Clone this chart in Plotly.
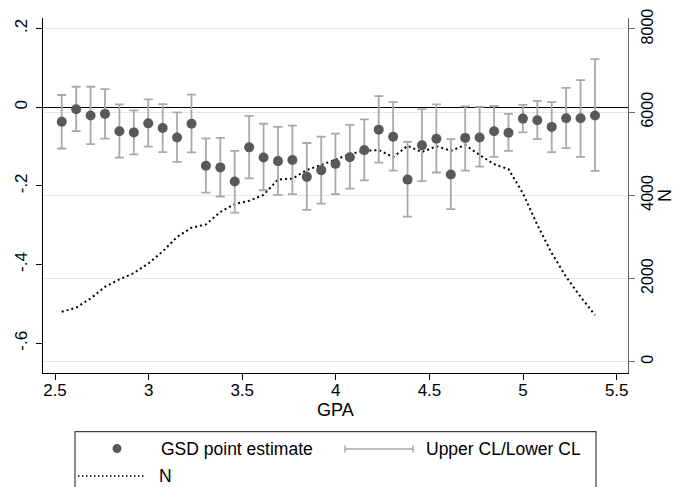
import plotly.graph_objects as go

gpa = [2.536, 2.613, 2.690, 2.767, 2.844, 2.921, 2.998, 3.075, 3.152, 3.229,
       3.306, 3.383, 3.460, 3.537, 3.614, 3.691, 3.768, 3.845, 3.922, 3.998,
       4.075, 4.152, 4.229, 4.306, 4.383, 4.460, 4.537, 4.614, 4.691, 4.768,
       4.845, 4.922, 4.999, 5.076, 5.153, 5.230, 5.307, 5.384]

estimate = [-0.037, -0.005, -0.021, -0.017, -0.061, -0.064, -0.041, -0.053, -0.077, -0.042,
            -0.149, -0.153, -0.189, -0.102, -0.128, -0.137, -0.134, -0.177, -0.160, -0.144,
            -0.127, -0.109, -0.057, -0.075, -0.184, -0.097, -0.080, -0.171, -0.078, -0.077,
            -0.061, -0.065, -0.029, -0.033, -0.050, -0.028, -0.028, -0.021]

upper_cl = [0.031, 0.052, 0.052, 0.046, 0.007, -0.008, 0.020, 0.008, -0.013, 0.032,
            -0.079, -0.078, -0.111, -0.022, -0.042, -0.050, -0.047, -0.091, -0.075, -0.067,
            -0.045, -0.031, 0.028, 0.013, -0.088, -0.005, 0.007, -0.081, 0.002, 0.001,
            0.003, -0.017, 0.006, 0.016, 0.013, 0.049, 0.069, 0.122]

lower_cl = [-0.105, -0.061, -0.094, -0.080, -0.128, -0.120, -0.100, -0.114, -0.139, -0.115,
            -0.217, -0.227, -0.268, -0.181, -0.211, -0.223, -0.221, -0.261, -0.245, -0.221,
            -0.207, -0.186, -0.141, -0.161, -0.278, -0.188, -0.166, -0.259, -0.161, -0.151,
            -0.126, -0.111, -0.064, -0.081, -0.114, -0.104, -0.126, -0.162]

n_obs = [1200, 1300, 1520, 1800, 1980, 2130, 2360, 2650, 3000, 3220,
         3300, 3600, 3790, 3870, 4010, 4380, 4400, 4610, 4730, 4850,
         4990, 5070, 5090, 4920, 5190, 5040, 5180, 5070, 5210, 4970,
         4750, 4630, 4050, 3290, 2610, 2040, 1560, 1120]

x_ticks = [2.5, 3, 3.5, 4, 4.5, 5, 5.5]
x_ticktext = ["2.5", "3", "3.5", "4", "4.5", "5", "5.5"]
gsd_ticks = [-0.6, -0.4, -0.2, 0, 0.2]
gsd_ticktext = ["-.6", "-.4", "-.2", "0", ".2"]
n_ticks = [0, 2000, 4000, 6000, 8000]

FONT = "Liberation Sans, Arial, Helvetica, sans-serif"
MARKER = "#595959"
ERR = "#a9a9a9"

err_plus = [u - e for u, e in zip(upper_cl, estimate)]
err_minus = [e - l for e, l in zip(estimate, lower_cl)]

fig = go.Figure()
fig.add_trace(go.Scatter(
    x=gpa, y=n_obs, mode="lines", name="N", yaxis="y",
    line=dict(color="black", width=2, dash="2px,3px"),
    showlegend=False))
fig.add_trace(go.Scatter(
    x=gpa, y=estimate, mode="markers", name="GSD point estimate", yaxis="y2",
    marker=dict(color=MARKER, size=10, line=dict(width=0)),
    error_y=dict(type="data", symmetric=False, array=err_plus, arrayminus=err_minus,
                 color=ERR, thickness=1.8, width=4.5),
    showlegend=False))

# The page body has an 8px margin; the figure is sized so the plot area lands
# at page pixels x 43..628, y 18..373.
BODY = 8
W, H = 683 - BODY, 487 - BODY
L, T = 43 - BODY, 18 - BODY
R = W - (628 - BODY)
B = H - (373 - BODY)
PW, PH = W - L - R, H - T - B


def px(x_page):
    return (x_page - BODY - L) / PW


def py(y_page):
    return (H - B - (y_page - BODY)) / PH


shapes = []
annotations = []
# legend box
shapes.append(dict(type="rect", xref="paper", yref="paper",
                   x0=px(75), x1=px(596), y0=py(505), y1=py(431.7),
                   line=dict(color="#404040", width=1.2), fillcolor="rgba(0,0,0,0)"))
# marker sample
shapes.append(dict(type="circle", xref="paper", yref="paper",
                   x0=px(112.5), x1=px(121.5), y0=py(453), y1=py(444),
                   line=dict(width=0), fillcolor=MARKER))
# error bar sample
shapes.append(dict(type="line", xref="paper", yref="paper",
                   x0=px(345), x1=px(413), y0=py(449), y1=py(449),
                   line=dict(color=ERR, width=1.5)))
for xc in (345, 413):
    shapes.append(dict(type="line", xref="paper", yref="paper",
                       x0=px(xc), x1=px(xc), y0=py(445.5), y1=py(452.5),
                       line=dict(color=ERR, width=1.5)))
# dotted N sample
shapes.append(dict(type="line", xref="paper", yref="paper",
                   x0=px(78), x1=px(145), y0=py(476), y1=py(476),
                   line=dict(color="black", width=1.5, dash="1.5px,2.5px")))

for text, xl, yc in (("GSD point estimate", 159, 449),
                     ("Upper CL/Lower CL", 424, 449),
                     ("N", 157, 476)):
    annotations.append(dict(text=text, xref="paper", yref="paper",
                            x=px(xl), y=py(yc), xanchor="left", yanchor="middle",
                            showarrow=False, font=dict(family=FONT, size=17.5, color="black")))

# axis titles
annotations.append(dict(text="GPA", xref="paper", yref="paper", x=px(335.5), y=py(410),
                        xanchor="center", yanchor="middle", showarrow=False,
                        font=dict(family=FONT, size=18, color="black")))
annotations.append(dict(text="N", xref="paper", yref="paper", x=px(665), y=py(196),
                        xanchor="center", yanchor="middle", showarrow=False, textangle=-90,
                        font=dict(family=FONT, size=18, color="black")))

fig.update_layout(
    width=W, height=H,
    margin=dict(l=L, r=R, t=T, b=B, pad=0, autoexpand=False),
    paper_bgcolor="white", plot_bgcolor="white",
    font=dict(family=FONT, size=17, color="black"),
    showlegend=False,
    xaxis=dict(range=[2.4359, 5.5604], tickvals=x_ticks, ticktext=x_ticktext,
               showgrid=False, zeroline=False, showline=True, linecolor="black",
               linewidth=1, ticks="outside", ticklen=6, tickcolor="black",
               ticklabelstandoff=-4, automargin=False, ticklabeloverflow="allow"),
    yaxis=dict(range=[-272, 8264], tickvals=n_ticks, side="right",
               showgrid=True, gridcolor="#e6e6e6", gridwidth=1.2,
               zeroline=False, showline=True, linecolor="#666666", linewidth=1.2,
               ticks="outside", ticklen=6, tickcolor="#666666", tickangle=-90,
               tickfont=dict(size=16), ticklabelstandoff=-1,
               automargin=False, ticklabeloverflow="allow"),
    yaxis2=dict(range=[-0.6755, 0.2267], tickvals=gsd_ticks, ticktext=gsd_ticktext,
                overlaying="y", side="left", showgrid=False,
                zeroline=True, zerolinecolor="black", zerolinewidth=1.2,
                showline=True, linecolor="black", linewidth=1,
                ticks="outside", ticklen=6, tickcolor="black", tickangle=-90,
                ticklabelstandoff=2, automargin=False, ticklabeloverflow="allow"),
    shapes=shapes,
    annotations=annotations,
)

fig.write_html("out.html")
